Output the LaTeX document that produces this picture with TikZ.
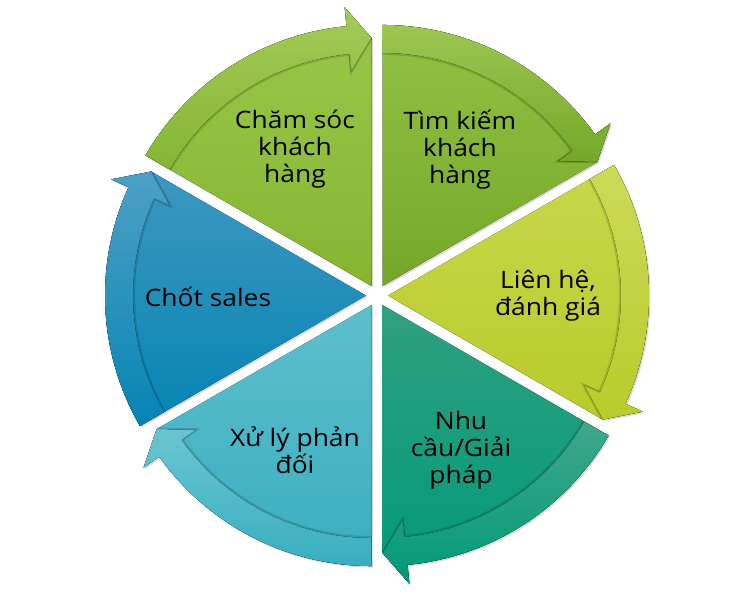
\documentclass[tikz,border=0pt]{standalone}
\usepackage{fontspec}
\setmainfont{Open Sans}[FakeStretch=1.1]
\usetikzlibrary{shadows}
\definecolor{careT}{HTML}{9AC74A}
\definecolor{careB}{HTML}{86B532}
\definecolor{findT}{HTML}{93C243}
\definecolor{findB}{HTML}{74A728}
\definecolor{contT}{HTML}{C9D74A}
\definecolor{contB}{HTML}{B9CB2B}
\definecolor{needT}{HTML}{30A080}
\definecolor{needB}{HTML}{009A78}
\definecolor{objT}{HTML}{5EBFCC}
\definecolor{objB}{HTML}{38AEC0}
\definecolor{closT}{HTML}{3D98C0}
\definecolor{closB}{HTML}{0584B4}

\begin{document}
\begin{tikzpicture}[x=1pt, y=1pt,
	piece/.style={drop shadow={opacity=.3, shadow xshift=1.5pt, shadow yshift=-1.5pt}},
	rim/.style={draw=black, draw opacity=.14, line width=2pt},
	segtext/.style={align=center, text=black, font=\fontsize{24}{27}\selectfont}]
\useasboundingbox (-377,-297.5) rectangle (377,295.5);
\foreach \n/\bis/\ct/\cb/\pos/\lab in {
	1/120/careT/careB/{(-82,146)}/{Chăm sóc\\khách\\hàng},
	2/60/findT/findB/{(83,146)}/{Tìm kiếm\\khách\\hàng},
	3/0/contT/contB/{(171,0)}/{Liên hệ,\\đánh giá},
	4/-60/needT/needB/{(84,-155)}/{Nhu\\cầu/Giải\\pháp},
	5/-120/objT/objB/{(-82,-155)}/{Xử lý phản\\đối},
	6/180/closT/closB/{(-169,-1)}/{Chốt sales}}{
	\pgfmathsetmacro\a{\bis+30}
	\pgfmathsetmacro\b{\bis-30}
	\pgfmathsetmacro\c{\bis-24.5}
	\begin{scope}[shift={(\bis:11)}]
		\fill[piece, top color=\ct, bottom color=\cb] (0,0) -- (\a:261)
			arc[start angle=\a, end angle=\c, radius=261] -- (\c:280) -- (\b:248) -- cycle;
		\fill[top color=\ct!92!white, bottom color=\cb] (\a:261)
			arc[start angle=\a, end angle=\c, radius=261] -- (\c:280) -- (\b:248)
			-- (\c:215) -- (\c:233) arc[start angle=\c, end angle=\a, radius=233] -- cycle;
		\draw[rim] (\a:232) arc[start angle=\a, end angle=\c, radius=232] -- (\c:214) -- (\b:247);
	\end{scope}
	\node[segtext] (seg_\n) at \pos {\lab};
}
\end{tikzpicture}
\end{document}
